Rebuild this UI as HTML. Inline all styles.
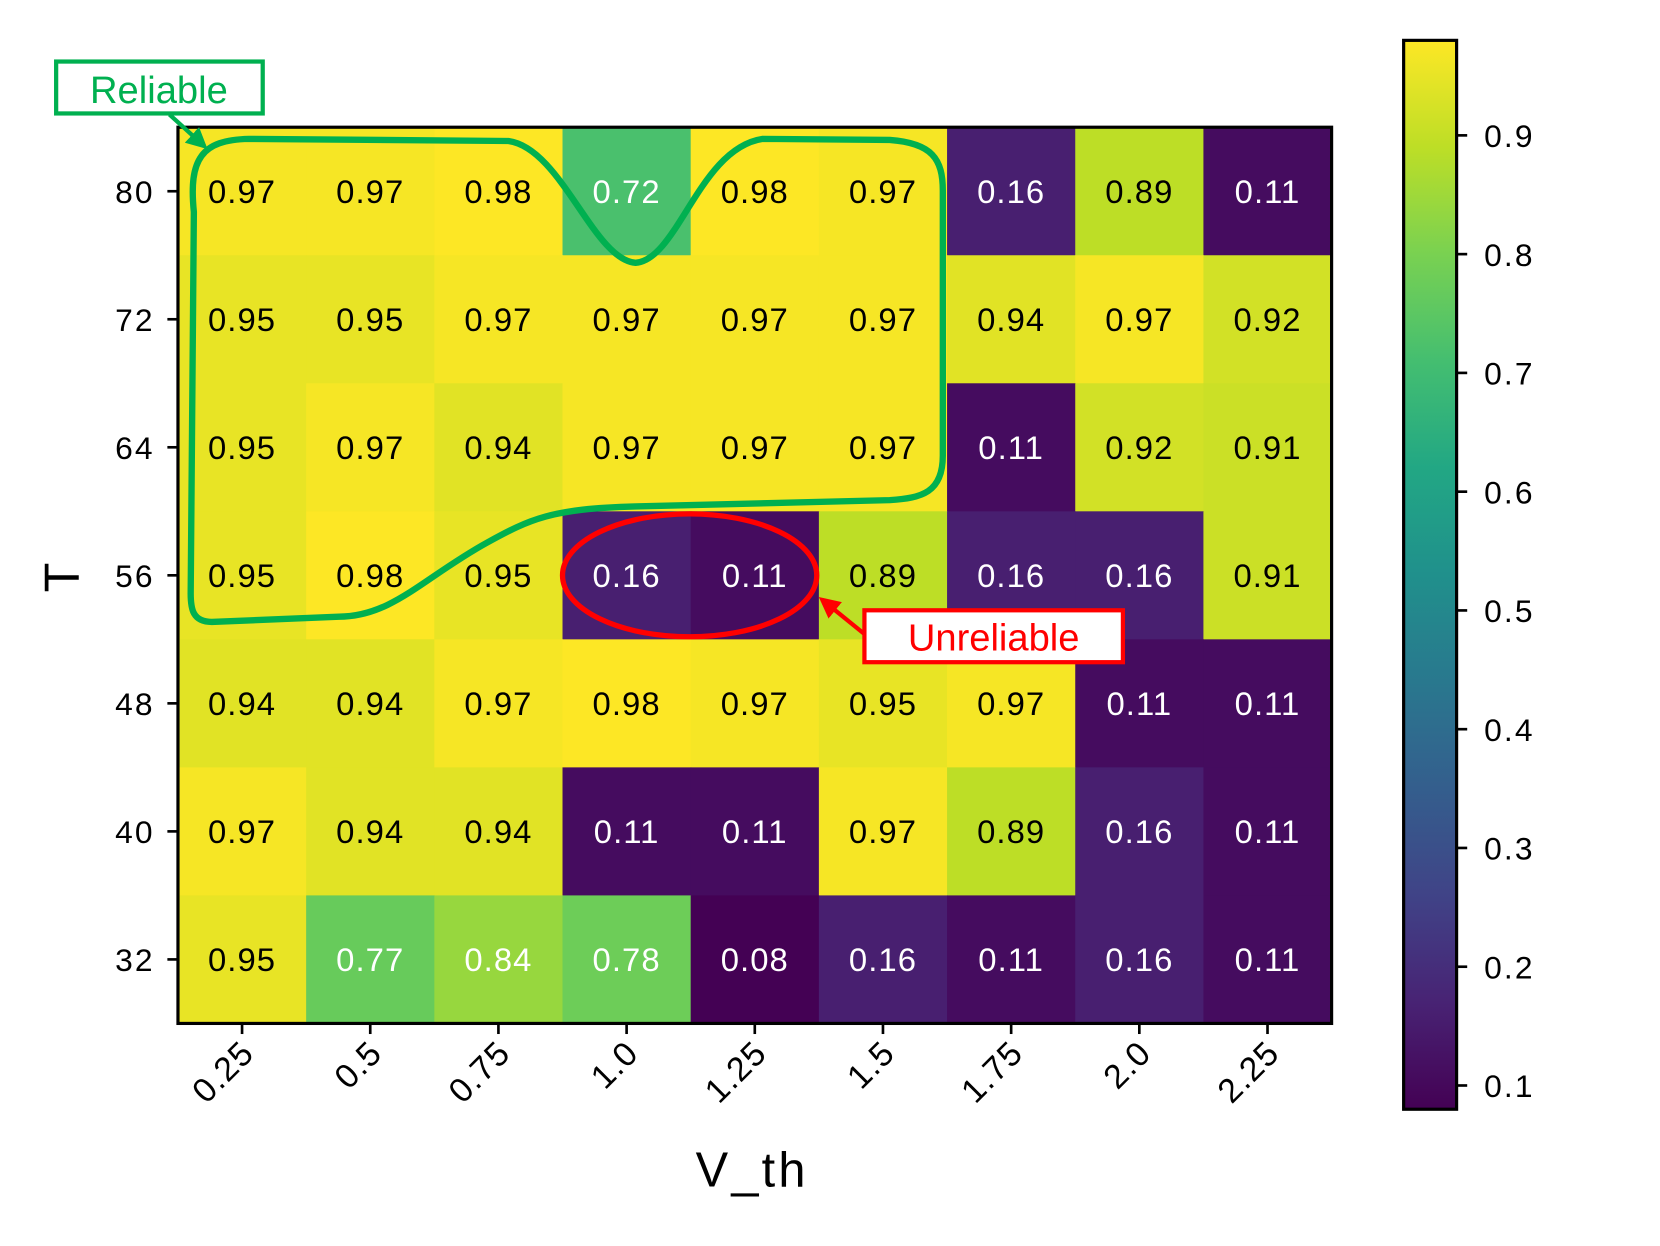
<!DOCTYPE html>
<html><head><meta charset="utf-8">
<style>
html,body{margin:0;padding:0;background:#fff;}
svg{display:block;font-family:"Liberation Sans",Arial,sans-serif;}
</style></head>
<body>
<svg id="chart" width="1660" height="1246" viewBox="0 0 1567 1176" xmlns="http://www.w3.org/2000/svg">
<defs>
<linearGradient id="cbgrad" x1="0" y1="1" x2="0" y2="0"></linearGradient>
<marker id="arrG" viewBox="0 0 10 10" refX="8" refY="5" markerWidth="5" markerHeight="5" orient="auto"><path d="M0,0 L10,5 L0,10 z" fill="#00b050"/></marker>
<marker id="arrR" viewBox="0 0 10 10" refX="8" refY="5" markerWidth="5" markerHeight="5" orient="auto"><path d="M0,0 L10,5 L0,10 z" fill="#ff0000"/></marker>
</defs>
<g id="cells"></g>
<g id="axes"></g>
<g id="colorbar"></g>
<g>
<path d="M183,200 C178,150 190,132 235,131 L480,133 C530,140 560,245 600,248 C640,245 660,140 720,131 L840,132 C880,135 890,150 890,180 L890,430 C890,465 870,470 840,472 L600,478 C520,480 500,490 460,512 C400,545 370,582 320,582 L200,587 C182,587 180,575 180,560 Z" fill="none" stroke="#00b050" stroke-width="6"/>
<rect x="53" y="58" width="195" height="49" fill="#fff" stroke="#00b050" stroke-width="4"/>
<text x="150" y="97" text-anchor="middle" font-size="36" fill="#00b050">Reliable</text>
<line x1="160" y1="108" x2="193" y2="138" stroke="#00b050" stroke-width="4" marker-end="url(#arrG)"/>
<ellipse cx="651" cy="543" rx="120" ry="58" fill="none" stroke="#ff0000" stroke-width="5"/>
<line x1="818" y1="600" x2="776" y2="566" stroke="#ff0000" stroke-width="4" marker-end="url(#arrR)"/>
<rect x="816" y="576" width="244" height="49" fill="#fff" stroke="#ff0000" stroke-width="4"/>
<text x="938" y="614" text-anchor="middle" font-size="36" fill="#ff0000">Unreliable</text>
</g>
</svg>
<script>
const xLabels = ["0.25","0.5","0.75","1.0","1.25","1.5","1.75","2.0","2.25"];
const yLabels = ["80","72","64","56","48","40","32"];
const row80 = [0.97,0.97,0.98,0.72,0.98,0.97,0.16,0.89,0.11];
const row72 = [0.95,0.95,0.97,0.97,0.97,0.97,0.94,0.97,0.92];
const row64 = [0.95,0.97,0.94,0.97,0.97,0.97,0.11,0.92,0.91];
const row56 = [0.95,0.98,0.95,0.16,0.11,0.89,0.16,0.16,0.91];
const row48 = [0.94,0.94,0.97,0.98,0.97,0.95,0.97,0.11,0.11];
const row40 = [0.97,0.94,0.94,0.11,0.11,0.97,0.89,0.16,0.11];
const row32 = [0.95,0.77,0.84,0.78,0.08,0.16,0.11,0.16,0.11];
const cbTicks = [0.1,0.2,0.3,0.4,0.5,0.6,0.7,0.8,0.9];
const vMin = 0.08, vMax = 0.98;

const rows = [row80,row72,row64,row56,row48,row40,row32];
const NS = "http://www.w3.org/2000/svg";
const PX0=168, PX1=1257, PY0=120, PY1=966;
const cw=(PX1-PX0)/xLabels.length, ch=(PY1-PY0)/yLabels.length;
const xPos = i => PX0 + cw*(i+0.5);
const yPos = j => PY0 + ch*(j+0.5);
const CB={x0:1325,x1:1375,y0:38,y1:1047};
const cbY = v => CB.y1 - (v-vMin)/(vMax-vMin)*(CB.y1-CB.y0);

const vir=[[68,1,84],[72,35,116],[64,67,135],[52,94,141],[41,120,142],[32,144,140],[34,167,132],[68,190,112],[121,209,81],[189,222,38],[253,231,37]];
function viridis(t){t=Math.max(0,Math.min(1,t));const f=t*(vir.length-1);const i=Math.min(Math.floor(f),vir.length-2);const r=f-i;
const c=vir[i].map((a,k)=>Math.round(a+(vir[i+1][k]-a)*r));return `rgb(${c[0]},${c[1]},${c[2]})`;}
function mk(tag,attrs,parent){const e=document.createElementNS(NS,tag);for(const k in attrs)e.setAttribute(k,attrs[k]);parent.appendChild(e);return e;}

const cells=document.getElementById('cells');
rows.forEach((row,j)=>row.forEach((v,i)=>{
  const r=mk('rect',{x:PX0+cw*i,y:PY0+ch*j,width:cw+0.5,height:ch+0.5,fill:viridis((v-vMin)/(vMax-vMin))},cells);
  
  
  const t=mk('text',{x:xPos(i),y:yPos(j)+11,'text-anchor':'middle','font-size':31,fill:v<0.86?'#fff':'#000','letter-spacing':'1'},cells);
  
  
  t.textContent=v.toFixed(2);
}));

const ax=document.getElementById('axes');
const frame=mk('rect',{x:PX0,y:PY0,width:PX1-PX0,height:PY1-PY0,fill:'none',stroke:'#000','stroke-width':3},ax);


yLabels.forEach((l,j)=>{
  mk('line',{x1:PX0-10,x2:PX0,y1:yPos(j),y2:yPos(j),stroke:'#000','stroke-width':2.5},ax);
  const t=mk('text',{x:PX0-22,y:yPos(j)+11,'text-anchor':'end','font-size':30,'letter-spacing':'2'},ax);
  
  
  t.textContent=l;
});
xLabels.forEach((l,i)=>{
  mk('line',{x1:xPos(i),x2:xPos(i),y1:PY1,y2:PY1+10,stroke:'#000','stroke-width':2.5},ax);
  const x=xPos(i)+13,y=PY1+30;
  const t=mk('text',{x:x,y:y,'text-anchor':'end','font-size':32,'letter-spacing':'1',transform:`rotate(-45 ${x} ${y})`},ax);
  
  
  t.textContent=l;
});
const xt=mk('text',{x:710,y:1120,'text-anchor':'middle','font-size':46,'letter-spacing':'3'},ax);


xt.textContent='V_th';
const yt=mk('text',{x:74,y:545,'text-anchor':'middle','font-size':46,transform:'rotate(-90 74 545)'},ax);


yt.textContent='T';

const g=document.getElementById('cbgrad');
for(let k=0;k<=20;k++){mk('stop',{offset:k/20,'stop-color':viridis(k/20)},g);}
const cb=document.getElementById('colorbar');
const cbr=mk('rect',{x:CB.x0,y:CB.y0,width:CB.x1-CB.x0,height:CB.y1-CB.y0,fill:'url(#cbgrad)',stroke:'#000','stroke-width':3},cb);


cbTicks.forEach(v=>{
  const y=cbY(v);
  mk('line',{x1:CB.x1,x2:CB.x1+10,y1:y,y2:y,stroke:'#000','stroke-width':2.5},cb);
  const t=mk('text',{x:CB.x1+26,y:y+11,'font-size':30,'letter-spacing':'2'},cb);
  
  
  t.textContent=v.toFixed(1);
});
</script>
</body></html>
